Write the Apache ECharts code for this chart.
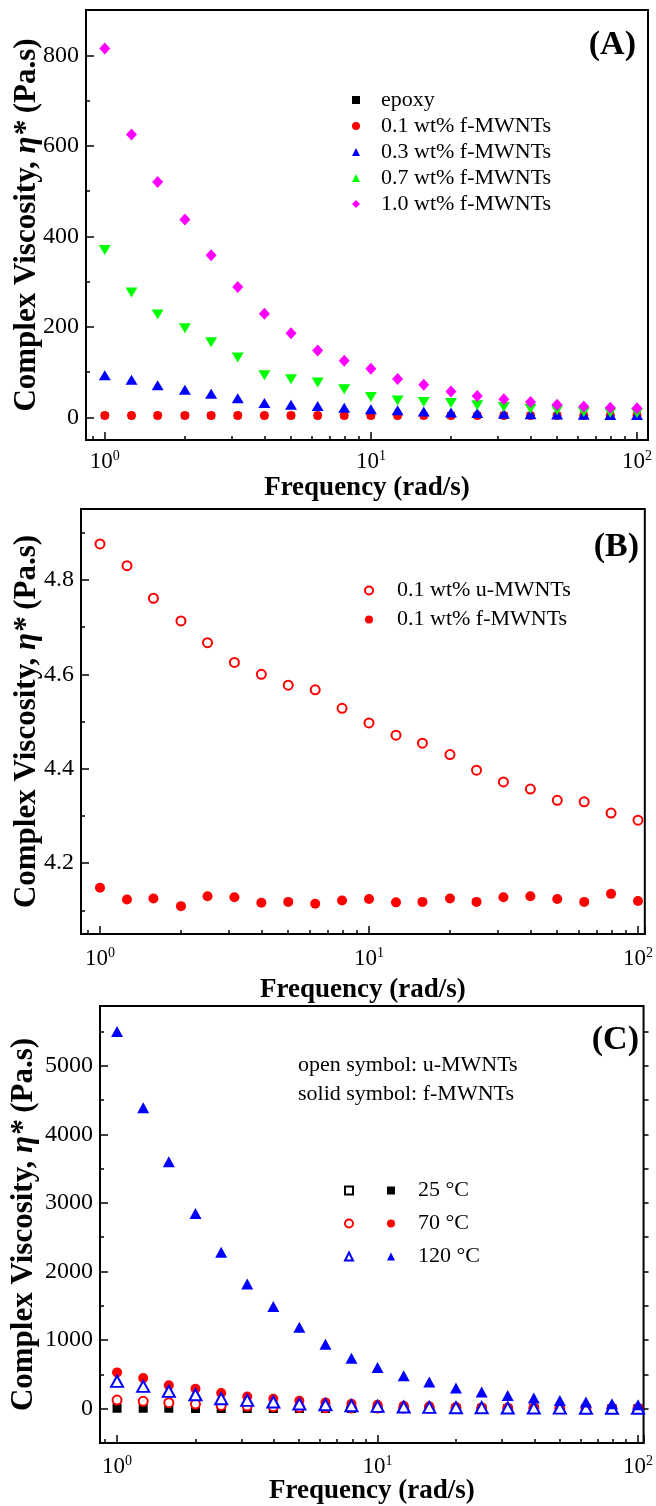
<!DOCTYPE html>
<html>
<head>
<meta charset="utf-8">
<script src="https://cdn.jsdelivr.net/npm/echarts@6/dist/echarts.min.js"></script>
<style>
  html, body { margin: 0; padding: 0; background: #fff; }
  #chart { width: 656px; height: 1506px; }
</style>
</head>
<body>
<div id="chart"></div>
<script>
// frequency points (rad/s), same for all three panels
var freq = [1, 1.26, 1.58, 2, 2.51, 3.16, 3.98, 5.01, 6.31, 7.94, 10, 12.6, 15.8, 20, 25.1, 31.6, 39.8, 50.1, 63.1, 79.4, 100];

// (A) complex viscosity, Pa.s
var epoxyA = [3.96, 3.93, 3.95, 3.92, 3.94, 3.93, 3.91, 3.92, 3.90, 3.91, 3.92, 3.90, 3.89, 3.91, 3.90, 3.89, 3.90, 3.88, 3.89, 3.90, 3.88];
var f01A = [4.148, 4.123, 4.125, 4.109, 4.130, 4.128, 4.116, 4.118, 4.114, 4.121, 4.124, 4.117, 4.118, 4.125, 4.118, 4.128, 4.130, 4.124, 4.118, 4.135, 4.120];
var f03A = [93, 83, 71, 61, 52, 42, 32, 28, 25, 21, 18, 15.5, 13, 11, 9.6, 8, 7, 6.6, 6, 5.5, 5];
var f07A = [370, 276, 227, 197, 166, 132, 93, 84, 77, 62, 45, 37.5, 34, 31.7, 26.5, 23, 19, 15.5, 12, 10, 9.6];
var f10A = [815, 625, 520, 437, 358, 288, 229, 186, 148, 125, 107.5, 85, 72, 57, 47, 40, 34, 28, 24, 21, 20];

// (B) 0.1 wt% u- vs f-MWNTs
var u01B = [4.876, 4.83, 4.761, 4.713, 4.667, 4.625, 4.6, 4.577, 4.567, 4.528, 4.497, 4.471, 4.454, 4.43, 4.397, 4.372, 4.357, 4.333, 4.33, 4.306, 4.291];
var f01B = [4.148, 4.123, 4.125, 4.109, 4.130, 4.128, 4.116, 4.118, 4.114, 4.121, 4.124, 4.117, 4.118, 4.125, 4.118, 4.128, 4.130, 4.124, 4.118, 4.135, 4.120];

// (C) temperatures, open = u-MWNTs, solid = f-MWNTs
var u25C = [4.9, 4.8, 4.8, 4.7, 4.7, 4.6, 4.6, 4.6, 4.5, 4.5, 4.5, 4.5, 4.4, 4.4, 4.4, 4.4, 4.4, 4.3, 4.3, 4.3, 4.3];
var f25C = [4.1, 4.1, 4.1, 4.1, 4.1, 4.1, 4.1, 4.1, 4.1, 4.1, 4.1, 4.1, 4.1, 4.1, 4.1, 4.1, 4.1, 4.1, 4.1, 4.1, 4.1];
var u70C = [126, 107, 87, 68, 48, 39, 29, 19, 15, 12, 10, 9, 8, 7, 6, 6, 5, 5, 5, 4, 4];
var f70C = [529, 446, 340, 291, 228, 179, 146, 116, 92, 73, 58, 44, 34, 24, 19, 15, 12, 10, 8, 7, 6];
var u120C = [398, 325, 252, 204, 146, 121, 97, 68, 58, 44, 34, 24, 19, 15, 15, 10, 9, 8, 7, 6, 6];
var f120C = [5498, 4387, 3598, 2847, 2280, 1819, 1489, 1188, 941, 737, 601, 480, 388, 301, 243, 194, 155, 121, 97, 73, 58];

// tick labels / positions
var yTicksA = [0, 200, 400, 600, 800];
var yMinorA = [100, 300, 500, 700];
var yTicksB = [4.2, 4.4, 4.6, 4.8];
var yMinorB = [4.1, 4.3, 4.5, 4.7, 4.9];
var yTicksC = [0, 1000, 2000, 3000, 4000, 5000];
var yMinorC = [500, 1500, 2500, 3500, 4500, 5500];
var xMinor = [0.9, 2, 3, 4, 5, 6, 7, 8, 9, 20, 30, 40, 50, 60, 70, 80, 90];

var FONT = "'Liberation Serif', 'Times New Roman', serif";
var BLACK = '#000';

function pairs(ys) {
  return freq.map(function (x, i) { return [x, ys[i]]; });
}

// 10^n labels with a raised exponent
function decadeLabel(v) {
  var p = Math.log10(v);
  if (Math.abs(p - Math.round(p)) > 1e-6) return '';
  return '10{sup|' + Math.round(p) + '}';
}

function plainNum(v) { return String(v); }

function xAxes(g, min, max, labelGap, nameGap) {
  return [{
    type: 'log', logBase: 10, gridIndex: g, min: min, max: max, position: 'bottom',
    axisLine: { show: true, onZero: false, lineStyle: { color: BLACK, width: 2 } },
    axisTick: { inside: true, length: 8, lineStyle: { color: BLACK, width: 1.5 } },
    axisLabel: {
      color: BLACK, fontFamily: FONT, fontSize: 23, margin: labelGap,
      formatter: decadeLabel,
      rich: { sup: { fontFamily: FONT, fontSize: 14, color: BLACK, padding: [0, 0, 12, 0] } }
    },
    splitLine: { show: false },
    name: 'Frequency (rad/s)', nameLocation: 'middle', nameGap: nameGap, nameMoveOverlap: false,
    nameTextStyle: { color: BLACK, fontFamily: FONT, fontSize: 27, fontWeight: 'bold' }
  }, {
    // minor ticks only
    type: 'log', logBase: 10, gridIndex: g, min: min, max: max, position: 'bottom',
    axisLine: { show: false, onZero: false },
    axisTick: { inside: true, length: 4, customValues: xMinor, lineStyle: { color: BLACK, width: 1.5 } },
    axisLabel: { show: false },
    splitLine: { show: false }
  }];
}

function yAxes(g, min, max, ticks, minor, fmt, gap) {
  return [{
    type: 'value', gridIndex: g, min: min, max: max, position: 'left',
    axisLine: { show: true, onZero: false, lineStyle: { color: BLACK, width: 2 } },
    axisTick: { inside: true, length: 8, customValues: ticks, lineStyle: { color: BLACK, width: 1.5 } },
    axisLabel: { color: BLACK, fontFamily: FONT, fontSize: 24, margin: 7, customValues: ticks, formatter: fmt },
    splitLine: { show: false },
    name: '{t|Complex Viscosity, }{i|η*}{t| (Pa.s)}',
    nameLocation: 'middle', nameGap: gap, nameRotate: 90, nameMoveOverlap: false,
    nameTextStyle: {
      rich: {
        t: { fontFamily: FONT, fontSize: 31, fontWeight: 'bold', color: BLACK },
        i: { fontFamily: FONT, fontSize: 31, fontWeight: 'bold', fontStyle: 'italic', color: BLACK }
      }
    }
  }, {
    type: 'value', gridIndex: g, min: min, max: max, position: 'left',
    axisLine: { show: false, onZero: false },
    axisTick: { inside: true, length: 4, customValues: minor, lineStyle: { color: BLACK, width: 1.5 } },
    axisLabel: { show: false },
    splitLine: { show: false }
  }];
}

function scatter(name, xi, yi, ys, symbol, size, color, rotate) {
  return {
    name: name, type: 'scatter', xAxisIndex: xi, yAxisIndex: yi,
    data: pairs(ys), symbol: symbol, symbolSize: size, symbolRotate: rotate || 0,
    itemStyle: { color: color, opacity: 1, borderWidth: symbol.indexOf('empty') === 0 ? 2 : 0 },
    silent: true
  };
}

// mirror ticks on the right side of panel C (pointing out)
var rightC = [{
  type: 'value', gridIndex: 2, min: -500, max: 5870, position: 'right',
  axisLine: { show: false, onZero: false },
  axisTick: { inside: false, length: 5, customValues: yTicksC, lineStyle: { color: BLACK, width: 1.5 } },
  axisLabel: { show: false }, splitLine: { show: false }
}, {
  type: 'value', gridIndex: 2, min: -500, max: 5870, position: 'right',
  axisLine: { show: false, onZero: false },
  axisTick: { inside: false, length: 5, customValues: yMinorC, lineStyle: { color: BLACK, width: 1.5 } },
  axisLabel: { show: false }, splitLine: { show: false }
}];

var cNames = { f25: '25 °C', f70: '70 °C', f120: '120 °C' };

var legendText = { color: BLACK, fontFamily: FONT, fontSize: 22 };

var option = {
  animation: false,
  backgroundColor: '#fff',
  grid: [
    { left: 86, top: 10, width: 562, height: 430, show: true, borderColor: BLACK, borderWidth: 2 },
    { left: 81, top: 509, width: 567, height: 425, show: true, borderColor: BLACK, borderWidth: 2 },
    { left: 96, top: 1006, width: 554, height: 443, show: true, borderColor: BLACK, borderWidth: 2 }
  ],
  xAxis: [].concat(xAxes(0, 0.85, 110, 9, 35), xAxes(1, 0.85, 106, 12, 43), xAxes(2, 0.86, 105, 11, 35)),
  yAxis: [].concat(
    yAxes(0, -50, 900, yTicksA, yMinorA, plainNum, 44),
    yAxes(1, 4.05, 4.95, yTicksB, yMinorB, function (v) { return v.toFixed(1); }, 39),
    yAxes(2, -500, 5870, yTicksC, yMinorC, plainNum, 61),
    rightC
  ),
  legend: [{
    data: ['epoxy', '0.1 wt% f-MWNTs', '0.3 wt% f-MWNTs', '0.7 wt% f-MWNTs', '1.0 wt% f-MWNTs'],
    orient: 'vertical', left: 352, top: 87, padding: 0, itemGap: 0,
    itemWidth: 8, itemHeight: 8, selectedMode: false,
    textStyle: Object.assign({ lineHeight: 26, padding: [0, 0, 0, 16] }, legendText)
  }, {
    data: ['0.1 wt% u-MWNTs', '0.1 wt% f-MWNTs'],
    orient: 'vertical', left: 364, top: 576, padding: 0, itemGap: 0,
    itemWidth: 8, itemHeight: 8, selectedMode: false,
    textStyle: Object.assign({ lineHeight: 29, padding: [0, 0, 0, 19] }, legendText)
  }, {
    // open symbols column, no text
    data: ['u25', 'u70', 'u120'],
    orient: 'vertical', left: 344, top: 1174, padding: 0, itemGap: 0,
    itemWidth: 8, itemHeight: 8, selectedMode: false,
    formatter: function () { return ' '; },
    textStyle: Object.assign({ lineHeight: 33 }, legendText)
  }, {
    data: ['f25', 'f70', 'f120'],
    orient: 'vertical', left: 387, top: 1174, padding: 0, itemGap: 0,
    itemWidth: 8, itemHeight: 8, selectedMode: false,
    formatter: function (n) { return cNames[n]; },
    textStyle: Object.assign({ lineHeight: 33, padding: [0, 0, 0, 18] }, legendText)
  }],
  graphic: [
    { type: 'text', right: 20, top: 28, style: { text: '(A)', font: 'bold 34px ' + FONT, fill: BLACK } },
    { type: 'text', right: 17, top: 530, style: { text: '(B)', font: 'bold 34px ' + FONT, fill: BLACK } },
    { type: 'text', right: 17, top: 1023, style: { text: '(C)', font: 'bold 34px ' + FONT, fill: BLACK } },
    { type: 'text', left: 298, top: 1054, style: { text: 'open symbol: u-MWNTs', font: '22px ' + FONT, fill: BLACK } },
    { type: 'text', left: 298, top: 1083, style: { text: 'solid symbol: f-MWNTs', font: '22px ' + FONT, fill: BLACK } }
  ],
  series: [
    // panel A
    scatter('epoxy', 0, 0, epoxyA, 'rect', 7, '#000'),
    scatter('0.1 wt% f-MWNTs', 0, 0, f01A, 'circle', 9, '#ff0000'),
    scatter('0.3 wt% f-MWNTs', 0, 0, f03A, 'triangle', [12, 10], '#0000ff'),
    scatter('0.7 wt% f-MWNTs', 0, 0, f07A, 'triangle', [12, 10], '#00ff00', 180),
    scatter('1.0 wt% f-MWNTs', 0, 0, f10A, 'diamond', [11, 12], '#ff00ff'),
    // panel B
    scatter('0.1 wt% u-MWNTs', 2, 2, u01B, 'emptyCircle', 9, '#ff0000'),
    scatter('0.1 wt% f-MWNTs', 2, 2, f01B, 'circle', 10, '#ff0000'),
    // panel C
    scatter('u25', 4, 4, u25C, 'emptyRect', 7, '#000'),
    scatter('f25', 4, 4, f25C, 'rect', 7, '#000'),
    scatter('u70', 4, 4, u70C, 'emptyCircle', 9, '#ff0000'),
    scatter('f70', 4, 4, f70C, 'circle', 10, '#ff0000'),
    scatter('u120', 4, 4, u120C, 'emptyTriangle', [12, 11], '#0000ff'),
    scatter('f120', 4, 4, f120C, 'triangle', [12, 11], '#0000ff')
  ]
};

var chart = echarts.init(document.getElementById('chart'));
chart.setOption(option);
</script>
</body>
</html>
